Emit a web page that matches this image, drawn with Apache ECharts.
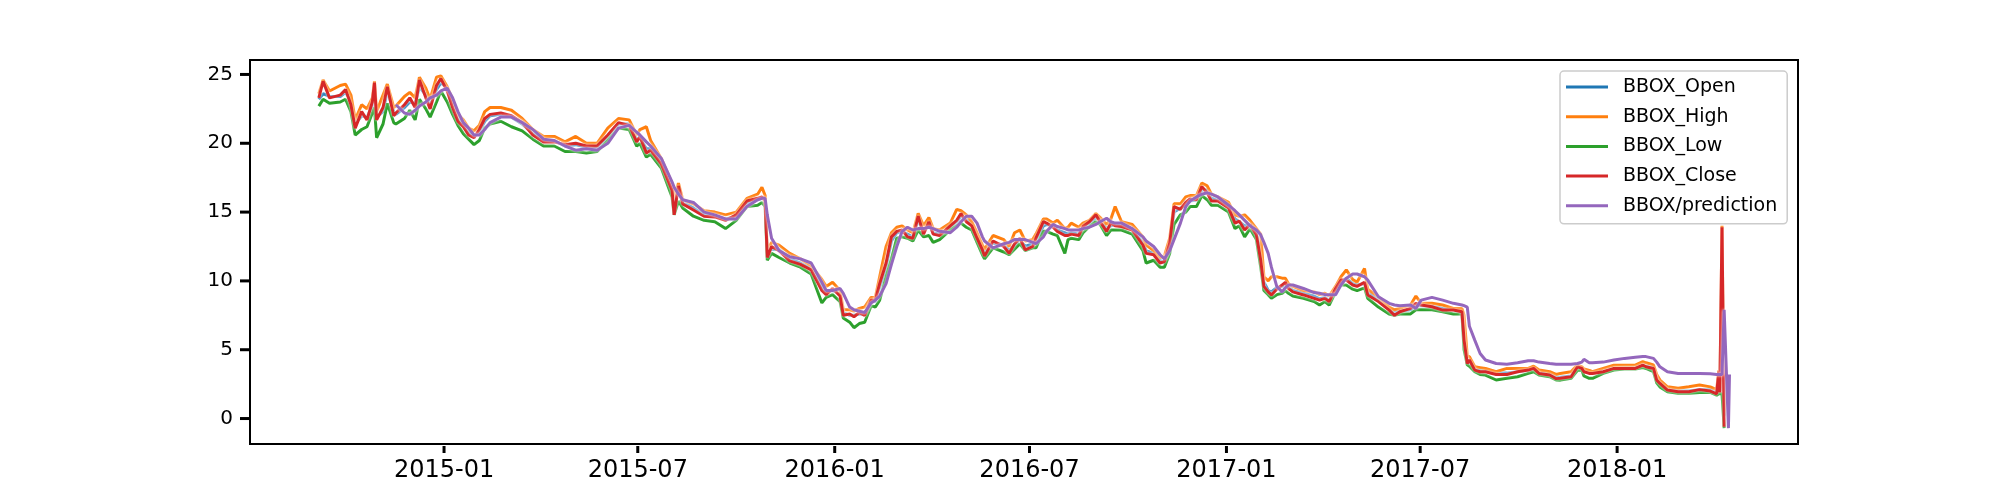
<!DOCTYPE html>
<html>
<head>
<meta charset="utf-8">
<title>BBOX prediction</title>
<script src="https://cdn.jsdelivr.net/npm/echarts@6/dist/echarts.min.js"></script>
<style>
  html, body { margin: 0; padding: 0; background: #fff; }
  #main { width: 2000px; height: 500px; }
</style>
</head>
<body>
<div id="main"></div>
<script>
// 日期（横轴）
const dates = [
  '2014-09-06','2014-09-10','2014-09-16','2014-09-26','2014-10-01','2014-10-06','2014-10-10','2014-10-16','2014-10-21','2014-10-26',
  '2014-10-28','2014-10-30','2014-11-05','2014-11-09','2014-11-15','2014-11-17','2014-11-25','2014-11-30','2014-12-05','2014-12-09',
  '2014-12-15','2014-12-19','2014-12-25','2014-12-29','2015-01-04','2015-01-09','2015-01-14','2015-01-19','2015-01-24','2015-01-29',
  '2015-02-03','2015-02-08','2015-02-13','2015-02-23','2015-03-05','2015-03-15','2015-03-25','2015-04-04','2015-04-14','2015-04-24',
  '2015-05-04','2015-05-14','2015-05-24','2015-06-03','2015-06-13','2015-06-23','2015-06-30','2015-07-03','2015-07-09','2015-07-13',
  '2015-07-23','2015-08-02','2015-08-04','2015-08-08','2015-08-12','2015-08-22','2015-09-01','2015-09-11','2015-09-21','2015-10-01',
  '2015-10-11','2015-10-21','2015-10-25','2015-10-28','2015-10-30','2015-11-03','2015-11-10','2015-11-20','2015-11-30','2015-12-10',
  '2015-12-20','2015-12-24','2015-12-30','2016-01-06','2016-01-09','2016-01-15','2016-01-19','2016-01-24','2016-01-29','2016-02-04',
  '2016-02-08','2016-02-12','2016-02-18','2016-02-23','2016-02-28','2016-03-04','2016-03-09','2016-03-14','2016-03-19','2016-03-24',
  '2016-03-29','2016-04-02','2016-04-08','2016-04-18','2016-04-24','2016-04-28','2016-05-03','2016-05-08','2016-05-13','2016-05-18',
  '2016-05-20','2016-05-28','2016-06-07','2016-06-12','2016-06-17','2016-06-22','2016-06-27','2016-07-04','2016-07-07','2016-07-14',
  '2016-07-17','2016-07-23','2016-07-27','2016-08-03','2016-08-06','2016-08-09','2016-08-16','2016-08-20','2016-08-26','2016-09-01',
  '2016-09-05','2016-09-11','2016-09-15','2016-09-19','2016-09-25','2016-10-05','2016-10-15','2016-10-18','2016-10-25','2016-10-31',
  '2016-11-04','2016-11-09','2016-11-13','2016-11-19','2016-11-24','2016-11-28','2016-12-04','2016-12-09','2016-12-14','2016-12-18',
  '2016-12-24','2017-01-03','2017-01-09','2017-01-13','2017-01-18','2017-01-23','2017-01-29','2017-02-02','2017-02-05','2017-02-09',
  '2017-02-12','2017-02-17','2017-02-22','2017-02-25','2017-02-28','2017-03-04','2017-03-14','2017-03-24','2017-03-29','2017-04-03',
  '2017-04-07','2017-04-13','2017-04-18','2017-04-23','2017-04-29','2017-05-03','2017-05-10','2017-05-13','2017-05-23','2017-06-02',
  '2017-06-07','2017-06-12','2017-06-22','2017-06-27','2017-07-02','2017-07-12','2017-07-22','2017-08-01','2017-08-09','2017-08-11',
  '2017-08-14','2017-08-16','2017-08-21','2017-08-26','2017-08-31','2017-09-10','2017-09-20','2017-09-30','2017-10-10','2017-10-15',
  '2017-10-20','2017-10-30','2017-11-05','2017-11-09','2017-11-19','2017-11-25','2017-11-29','2017-12-01','2017-12-06','2017-12-09',
  '2017-12-19','2017-12-29','2018-01-08','2018-01-18','2018-01-25','2018-01-28','2018-02-04','2018-02-07','2018-02-10','2018-02-17',
  '2018-02-27','2018-03-09','2018-03-19','2018-03-29','2018-04-04','2018-04-06','2018-04-07','2018-04-09','2018-04-11','2018-04-15',
  '2018-04-16'
];

const openValues = [
  23.2, 23.6, 23.4, 23.4, 23.7, 23.1, 21.4, 22.0, 21.9, 22.7,
  23.8, 21.9, 22.3, 23.8, 22.3, 22.1, 22.6, 23.0, 22.9, 24.1,
  23.5, 22.8, 23.9, 24.4, 24.0, 22.9, 21.8, 21.4, 20.8, 20.5,
  20.8, 21.6, 22.0, 22.1, 21.9, 21.4, 20.7, 20.2, 20.2, 19.8,
  19.9, 19.7, 19.7, 20.5, 21.4, 21.4, 20.3, 20.4, 19.6, 19.6,
  18.6, 16.8, 15.6, 16.5, 15.7, 15.3, 14.8, 14.7, 14.5, 14.7,
  15.6, 15.9, 16.0, 15.9, 12.0, 12.3, 12.3, 11.6, 11.3, 10.9,
  9.6, 9.2, 9.3, 9.1, 7.7, 7.5, 7.5, 7.6, 7.6, 8.5,
  8.5, 9.5, 11.0, 12.9, 13.5, 13.6, 13.4, 13.2, 14.4, 13.6,
  14.1, 13.5, 13.4, 13.9, 14.3, 14.7, 14.5, 14.1, 13.3, 12.4,
  12.0, 12.8, 12.6, 12.2, 12.6, 13.0, 12.5, 12.7, 12.9, 14.0,
  14.1, 14.0, 13.7, 13.5, 13.4, 13.5, 13.4, 13.8, 14.2, 14.6,
  14.4, 13.8, 14.0, 14.1, 14.0, 13.8, 12.8, 12.2, 12.0, 11.5,
  11.3, 12.4, 15.0, 15.3, 15.5, 15.8, 15.9, 16.6, 16.6, 16.0,
  15.9, 15.5, 14.5, 14.3, 14.0, 14.0, 13.5, 12.0, 9.9, 9.3,
  9.2, 9.5, 9.6, 9.8, 9.6, 9.3, 9.1, 8.9, 8.7, 8.8,
  8.6, 9.3, 9.9, 10.2, 9.8, 9.7, 9.8, 9.2, 8.6, 7.95,
  7.7, 7.8, 7.9, 8.2, 8.2, 8.15, 8.0, 7.9, 7.8, 6.5,
  4.3, 4.1, 3.6, 3.5, 3.45, 3.3, 3.3, 3.4, 3.5, 3.6,
  3.35, 3.2, 3.0, 3.0, 3.1, 3.6, 3.65, 3.5, 3.3, 3.3,
  3.4, 3.6, 3.7, 3.7, 3.8, 3.8, 3.7, 2.9, 2.6, 2.1,
  2.0, 2.0, 2.1, 2.1, 1.9, 2.8, 2.0, 12.0, 0.2, null,
  null
];

const highValues = [
  23.6, 24.6, 23.8, 24.2, 24.3, 23.5, 21.7, 22.8, 22.5, 23.3,
  24.5, 22.3, 23.5, 24.3, 22.6, 22.7, 23.4, 23.7, 23.3, 24.8,
  24.0, 23.2, 24.8, 24.9, 24.1, 23.2, 22.1, 21.7, 21.1, 20.9,
  21.3, 22.3, 22.6, 22.6, 22.4, 21.8, 21.0, 20.5, 20.5, 20.1,
  20.5, 20.0, 20.0, 21.1, 21.8, 21.7, 20.6, 21.0, 21.2, 20.2,
  18.9, 17.1, 16.0, 17.1, 15.9, 15.6, 15.1, 15.0, 14.8, 15.0,
  16.0, 16.3, 16.8, 16.2, 12.2, 12.8, 12.6, 12.0, 11.6, 11.1,
  10.1, 9.6, 9.9, 9.3, 7.9, 7.9, 7.8, 8.0, 8.1, 8.8,
  8.8, 10.3, 12.5, 13.5, 13.9, 14.0, 13.7, 13.5, 14.9, 14.0,
  14.6, 13.8, 13.7, 14.2, 15.2, 15.1, 14.8, 14.3, 13.5, 12.6,
  12.3, 13.3, 13.0, 12.5, 13.5, 13.7, 12.9, 13.0, 13.4, 14.5,
  14.5, 14.2, 14.4, 13.8, 13.9, 14.2, 13.9, 14.2, 14.4, 14.9,
  14.6, 14.1, 14.5, 15.4, 14.3, 14.1, 13.2, 12.6, 12.2, 11.7,
  11.8, 13.1, 15.6, 15.6, 16.1, 16.2, 16.2, 17.1, 16.9, 16.3,
  16.1, 15.7, 14.8, 14.7, 14.8, 14.4, 13.8, 13.4, 10.3, 10.0,
  10.3, 10.3, 10.2, 10.2, 9.8, 9.6, 9.3, 9.2, 9.0, 9.1,
  8.9, 9.6, 10.3, 10.8, 10.1, 9.9, 10.9, 9.4, 8.85, 8.1,
  7.9, 8.0, 8.25, 8.9, 8.37, 8.37, 8.25, 8.0, 8.0, 7.5,
  4.5, 4.5, 3.76, 3.7, 3.64, 3.4, 3.64, 3.64, 3.64, 3.8,
  3.52, 3.4, 3.2, 3.28, 3.4, 3.9, 3.76, 3.6, 3.5, 3.4,
  3.64, 3.88, 3.88, 3.88, 4.13, 4.05, 3.9, 3.2, 2.8, 2.31,
  2.2, 2.31, 2.43, 2.3, 2.1, 3.5, 2.2, 14.0, 0.5, null,
  null
];

const lowValues = [
  22.7, 23.2, 22.9, 23.0, 23.2, 22.3, 20.6, 21.0, 21.2, 22.2,
  22.6, 20.4, 21.4, 22.9, 21.5, 21.4, 21.8, 22.4, 21.7, 23.2,
  22.5, 21.9, 23.0, 23.8, 23.0, 22.1, 21.3, 20.7, 20.3, 19.9,
  20.2, 21.1, 21.4, 21.6, 21.2, 20.9, 20.3, 19.8, 19.8, 19.4,
  19.4, 19.3, 19.4, 20.2, 21.1, 21.0, 19.8, 20.0, 19.0, 19.2,
  18.2, 16.1, 14.8, 15.8, 15.3, 14.7, 14.4, 14.3, 13.8, 14.4,
  15.4, 15.5, 15.7, 15.4, 11.5, 12.0, 11.7, 11.3, 11.0, 10.5,
  8.4, 8.8, 9.0, 8.5, 7.3, 7.0, 6.6, 6.9, 7.0, 8.2,
  8.1, 8.6, 10.3, 11.6, 13.1, 13.2, 13.1, 12.9, 13.7, 13.2,
  13.3, 12.8, 13.0, 13.7, 14.0, 14.2, 13.9, 13.7, 12.8, 11.9,
  11.6, 12.4, 12.1, 11.9, 12.3, 12.7, 12.2, 12.4, 12.4, 13.6,
  13.6, 13.4, 13.3, 12.0, 13.0, 13.1, 13.0, 13.5, 13.95, 14.3,
  14.1, 13.3, 13.7, 13.7, 13.7, 13.4, 12.2, 11.3, 11.5, 11.0,
  11.0, 12.0, 14.1, 14.8, 15.0, 15.4, 15.4, 16.2, 15.9, 15.5,
  15.5, 15.0, 13.8, 14.0, 13.2, 13.8, 13.0, 11.0, 9.3, 9.0,
  8.74, 9.0, 9.1, 9.3, 9.1, 8.9, 8.74, 8.5, 8.25, 8.5,
  8.25, 9.2, 9.7, 9.7, 9.4, 9.3, 9.5, 8.74, 8.1, 7.6,
  7.5, 7.6, 7.6, 7.9, 7.9, 7.9, 7.76, 7.6, 7.6, 5.0,
  3.9, 3.8, 3.4, 3.2, 3.16, 2.8, 2.92, 3.04, 3.28, 3.4,
  3.16, 3.04, 2.8, 2.79, 2.92, 3.5, 3.52, 3.1, 2.92, 2.92,
  3.28, 3.52, 3.6, 3.6, 3.7, 3.64, 3.4, 2.6, 2.3, 1.95,
  1.83, 1.83, 1.9, 1.9, 1.7, 1.8, 1.8, 1.8, -0.7, null,
  null
];

const closeValues = [
  23.3, 24.5, 23.3, 23.5, 23.9, 22.8, 21.1, 22.3, 21.7, 23.0,
  24.4, 21.7, 22.6, 24.1, 22.0, 22.2, 22.8, 23.3, 22.6, 24.6,
  23.3, 22.5, 24.2, 24.7, 23.8, 22.6, 21.6, 21.2, 20.6, 20.4,
  21.0, 21.8, 22.1, 22.2, 22.0, 21.5, 20.6, 20.1, 20.1, 19.9,
  20.0, 19.8, 19.8, 20.6, 21.5, 21.3, 20.1, 20.5, 19.3, 19.5,
  18.5, 16.6, 14.8, 16.9, 15.6, 15.15, 14.7, 14.65, 14.4, 14.8,
  15.8, 16.0, 16.1, 15.8, 11.7, 12.5, 12.2, 11.45, 11.2, 10.8,
  9.3, 9.0, 9.45, 8.9, 7.5, 7.6, 7.4, 7.7, 7.5, 8.6,
  8.6, 9.8, 11.3, 13.2, 13.6, 13.7, 13.2, 13.1, 14.7, 13.4,
  14.3, 13.4, 13.3, 14.0, 14.4, 14.9, 14.3, 14.0, 13.1, 12.25,
  11.8, 12.9, 12.5, 12.0, 12.7, 13.1, 12.25, 12.5, 13.1, 14.3,
  14.2, 13.9, 13.6, 13.3, 13.3, 13.4, 13.3, 13.95, 14.3, 14.8,
  14.3, 13.6, 14.2, 14.0, 13.95, 13.7, 12.6, 12.0, 11.9, 11.3,
  11.4, 12.75, 15.4, 15.2, 15.7, 15.95, 15.9, 16.85, 16.4, 15.8,
  15.8, 15.3, 14.2, 14.35, 13.7, 14.1, 13.35, 11.5, 9.6, 9.2,
  8.98, 9.4, 9.7, 9.9, 9.45, 9.2, 8.98, 8.73, 8.6, 8.73,
  8.5, 9.45, 10.06, 10.06, 9.7, 9.6, 9.9, 8.98, 8.5, 7.88,
  7.5, 7.76, 8.0, 8.37, 8.25, 8.12, 7.88, 7.88, 7.76, 5.7,
  4.0, 4.25, 3.52, 3.4, 3.4, 3.2, 3.2, 3.4, 3.52, 3.64,
  3.28, 3.16, 2.9, 2.92, 3.04, 3.76, 3.64, 3.4, 3.28, 3.28,
  3.4, 3.64, 3.64, 3.64, 3.88, 3.76, 3.64, 2.79, 2.55, 2.07,
  1.95, 1.95, 2.1, 2.0, 1.8, 3.4, 1.9, 13.9, -0.6, null,
  null
];

const predictionValues = [
  null, null, null, null, null, null, null, null, null, null,
  null, null, null, null, null, 22.8, 22.2, 22.1, 22.4, 22.7,
  23.0, 23.3, 23.5, 23.8, 24.0, 23.3, 22.3, 21.5, 21.1, 20.6,
  20.6, 21.0, 21.5, 21.9, 21.9, 21.5, 21.0, 20.3, 20.2, 19.8,
  19.5, 19.6, 19.5, 20.0, 21.1, 21.3, 20.8, 20.6, 20.1, 19.8,
  18.9, 17.2, 16.8, 16.3, 15.9, 15.7, 15.0, 14.8, 14.5, 14.5,
  15.4, 15.9, 16.0, 16.0, 14.8, 13.1, 12.2, 11.75, 11.6, 11.3,
  9.9, 9.3, 9.3, 9.45, 9.1, 8.1, 7.9, 7.8, 7.7, 8.4,
  8.6, 8.9, 9.8, 11.2, 12.5, 13.6, 13.9, 13.7, 13.8, 13.8,
  13.9, 13.8, 13.6, 13.5, 13.9, 14.3, 14.7, 14.7, 14.2, 13.2,
  12.9, 12.4, 12.7, 12.8, 13.0, 13.0, 13.0, 12.8, 12.7, 13.2,
  13.6, 14.1, 13.95, 13.8, 13.7, 13.7, 13.7, 13.8, 13.9, 14.1,
  14.3, 14.55, 14.3, 14.2, 14.2, 13.8, 13.2, 12.9, 12.5, 11.9,
  11.6, 12.2, 13.0, 14.2, 15.4, 15.8, 16.1, 16.3, 16.4, 16.3,
  16.1, 15.5, 15.1, 14.8, 14.4, 14.0, 13.7, 13.35, 12.8, 12.0,
  11.0, 9.6, 9.2, 9.5, 9.7, 9.7, 9.45, 9.15, 9.1, 9.0,
  9.0, 9.0, 9.7, 10.2, 10.5, 10.5, 10.3, 10.06, 8.85, 8.37,
  8.25, 8.2, 8.25, 8.0, 8.6, 8.8, 8.6, 8.37, 8.25, 8.2,
  8.1, 6.7, 5.7, 4.73, 4.25, 4.0, 3.95, 4.05, 4.2, 4.2,
  4.1, 4.0, 3.95, 3.95, 3.95, 4.0, 4.1, 4.3, 4.05, 4.05,
  4.1, 4.25, 4.37, 4.45, 4.5, 4.5, 4.37, 4.1, 3.76, 3.4,
  3.28, 3.28, 3.28, 3.25, 3.2, 3.2, 3.2, 3.2, 7.9, -0.7,
  3.2
];

// 刻度
const yTicks = [0, 5, 10, 15, 20, 25];
const xTicks = ['2015-01-01', '2015-07-01', '2016-01-01', '2016-07-01', '2017-01-01', '2017-07-01', '2018-01-01'];

const seriesNames = ['BBOX_Open', 'BBOX_High', 'BBOX_Low', 'BBOX_Close', 'BBOX/prediction'];
const seriesColors = ['#1f77b4', '#ff7f0e', '#2ca02c', '#d62728', '#9467bd'];
const seriesValues = [openValues, highValues, lowValues, closeValues, predictionValues];

const fontFamily = 'DejaVu Sans';
const xMin = new Date(2014, 6, 3, 17).getTime();
const xMax = new Date(2018, 5, 19).getTime();

function toTime(s) {
  const p = s.split('-');
  return new Date(+p[0], +p[1] - 1, +p[2]).getTime();
}

function pad2(n) {
  return n < 10 ? '0' + n : '' + n;
}

const chart = echarts.init(document.getElementById('main'), null, { renderer: 'canvas' });

const series = seriesNames.map((name, i) => ({
  name,
  type: 'line',
  showSymbol: false,
  symbol: 'none',
  connectNulls: false,
  lineStyle: {
    color: seriesColors[i],
    width: 3,
    shadowColor: '#ffffff',
    shadowBlur: 3
  },
  itemStyle: { color: seriesColors[i] },
  data: dates.map((d, k) => [toTime(d), seriesValues[i][k] === null ? '-' : seriesValues[i][k]])
}));

// y 轴刻度线：用 custom 系列按坐标轴换算位置，画在框外
series.push({
  name: 'yTickMarks',
  type: 'custom',
  silent: true,
  clip: false,
  z: 10,
  data: yTicks.map(v => [xMin, v]),
  renderItem: (params, api) => {
    const p = api.coord([api.value(0), api.value(1)]);
    return {
      type: 'rect',
      shape: { x: p[0] - 10, y: p[1] - 1.5, width: 9, height: 3 },
      style: { fill: '#000' }
    };
  }
});

// x 轴刻度线画在标签的富文本里
const tickMark = { backgroundColor: '#000', color: 'transparent', fontSize: 1 };

chart.setOption({
  animation: false,
  backgroundColor: '#ffffff',
  grid: {
    left: 250,
    right: 202,
    top: 60,
    bottom: 56,
    show: true,
    borderColor: '#000000',
    borderWidth: 2,
    backgroundColor: 'transparent'
  },
  legend: {
    orient: 'vertical',
    left: 1560,
    top: 71,
    data: seriesNames,
    icon: 'rect',
    itemWidth: 42,
    itemHeight: 3,
    itemGap: 7.7,
    padding: [5, 10, 7, 6],
    backgroundColor: 'rgba(255,255,255,0.85)',
    borderColor: '#cccccc',
    borderWidth: 1.5,
    borderRadius: 4,
    textStyle: {
      fontFamily,
      fontSize: 19,
      lineHeight: 22,
      color: '#000000',
      padding: [0, 0, 0, 10]
    }
  },
  // 时间轴用数值轴表示，刻度放在每年1月和7月
  xAxis: {
    type: 'value',
    position: 'bottom',
    min: xMin,
    max: xMax,
    axisLine: { show: false, onZero: false },
    axisTick: { show: false },
    splitLine: { show: false },
    axisLabel: {
      color: '#000',
      margin: 2,
      customValues: xTicks.map(toTime),
      formatter: val => {
        const d = new Date(val);
        return '{t|}\n{d|' + d.getFullYear() + '-' + pad2(d.getMonth() + 1) + '}';
      },
      rich: {
        t: Object.assign({ width: 3, height: 7, lineHeight: 7 }, tickMark),
        d: { fontFamily, fontSize: 24, lineHeight: 36, color: '#000' }
      }
    }
  },
  yAxis: {
    type: 'value',
    position: 'left',
    min: -1.85,
    max: 26.05,
    axisLine: { show: false, onZero: false },
    axisTick: { show: false },
    splitLine: { show: false },
    axisLabel: {
      fontFamily,
      fontSize: 20,
      color: '#000',
      margin: 17,
      customValues: yTicks
    }
  },
  series
});
</script>
</body>
</html>
